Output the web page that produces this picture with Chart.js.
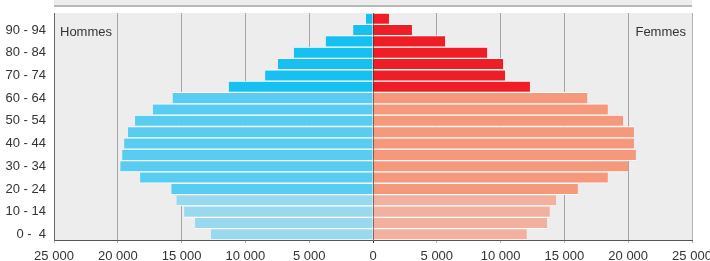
<!DOCTYPE html>
<html>
<head>
<meta charset="utf-8">
<script src="https://cdn.jsdelivr.net/npm/chart.js@4"></script>
<style>
  html, body { margin: 0; padding: 0; background: #fff; }
  #wrap { width: 710px; height: 261px; }
</style>
</head>
<body>
<div id="wrap"><canvas id="pyramide"></canvas></div>
<script>
// Tranches d'âge (du bas vers le haut)
const ageGroups = ['0 -  4', '5 -  9', '10 - 14', '15 - 19', '20 - 24', '25 - 29', '30 - 34', '35 - 39', '40 - 44', '45 - 49',
  '50 - 54', '55 - 59', '60 - 64', '65 - 69', '70 - 74', '75 - 79', '80 - 84', '85 - 89', '90 - 94', '95 - 99'];
const hommes = [12700, 13950, 14800, 15400, 15800, 18250, 19800, 19650, 19500, 19200,
  18650, 17250, 15700, 11300, 8450, 7450, 6200, 3700, 1550, 550];
const femmes = [12050, 13650, 13850, 14350, 16050, 18400, 20000, 20600, 20450, 20450,
  19600, 18400, 16800, 12300, 10350, 10200, 8950, 5650, 3050, 1250];
const xTickValues = [-25000, -20000, -15000, -10000, -5000, 0, 5000, 10000, 15000, 20000, 25000];

// couleurs : 0-19 clair, 20-64 moyen, 65+ foncé
function couleur(i, clair, moyen, fonce) {
  if (i < 4) return clair;
  if (i < 13) return moyen;
  return fonce;
}
const bleus = ageGroups.map((a, i) => couleur(i, '#98d9f0', '#58cdf1', '#16c1f1'));
const rouges = ageGroups.map((a, i) => couleur(i, '#f3b09e', '#f6987b', '#ef1e26'));

const fmt = v => String(Math.abs(v)).replace(/\B(?=(\d{3})+(?!\d))/g, ' ');

const fond = {
  id: 'fond',
  beforeDraw(chart) {
    const { ctx, chartArea: a } = chart;
    ctx.save();
    // bandeau du haut
    ctx.fillStyle = '#ededed';
    ctx.fillRect(a.left, 0, a.right - a.left, 5);
    ctx.fillStyle = '#b8b8b8';
    ctx.fillRect(a.left, 5, a.right - a.left, 2);
    ctx.fillStyle = '#ededed';
    ctx.fillRect(a.left, a.top, a.right - a.left, a.bottom - a.top);
    ctx.restore();
  },
  afterDraw(chart) {
    const { ctx, chartArea: a } = chart;
    ctx.save();
    ctx.font = '13px "Liberation Sans", Arial, sans-serif';
    ctx.fillStyle = '#333';
    ctx.textBaseline = 'middle';
    ctx.textAlign = 'left';
    ctx.fillText('Hommes', a.left + 6, 32);
    ctx.textAlign = 'right';
    ctx.fillText('Femmes', a.right - 6, 32);
    ctx.restore();
  }
};

new Chart(document.getElementById('pyramide'), {
  type: 'bar',
  data: {
    labels: ageGroups,
    datasets: [{
      label: 'Hommes',
      data: hommes.map(v => -v),
      backgroundColor: bleus
    }, {
      label: 'Femmes',
      data: femmes,
      backgroundColor: rouges
    }]
  },
  options: {
    indexAxis: 'y',
    responsive: true,
    maintainAspectRatio: false,
    animation: false,
    layout: { padding: { top: 13, right: 18, left: 0, bottom: 0 } },
    datasets: {
      bar: {
        barPercentage: 1,
        categoryPercentage: 1,
        borderColor: '#ffffff',
        borderWidth: { top: 1, bottom: 1, left: 0, right: 0 },
        borderSkipped: false
      }
    },
    scales: {
      x: {
        stacked: true,
        min: -25000,
        max: 25000,
        z: 1,
        afterBuildTicks: s => { s.ticks = xTickValues.map(v => ({ value: v })); },
        afterFit: s => { s.height = 21; s.paddingLeft = 0; s.paddingRight = 0; },
        grid: {
          color: c => c.tick.value === 0 ? 'rgba(0,0,0,0.8)' : 'rgba(0,0,0,0.3)',
          tickLength: 3
        },
        border: { display: true, color: '#555' },
        ticks: {
          callback: v => fmt(v),
          color: '#333',
          padding: 6,
          maxRotation: 0,
          font: { size: 13, family: '"Liberation Sans", Arial, sans-serif' }
        }
      },
      y: {
        stacked: true,
        reverse: true,
        afterFit: s => { s.width = 54; },
        grid: { display: false },
        border: { display: true, color: '#666' },
        ticks: {
          autoSkip: false,
          callback: (v, i) => i % 2 === 0 ? ageGroups[i] : '',
          color: '#333',
          padding: 0,
          font: { size: 13, family: '"Liberation Sans", Arial, sans-serif' }
        }
      }
    },
    plugins: {
      legend: { display: false },
      tooltip: { enabled: false }
    }
  },
  plugins: [fond]
});
</script>
</body>
</html>
